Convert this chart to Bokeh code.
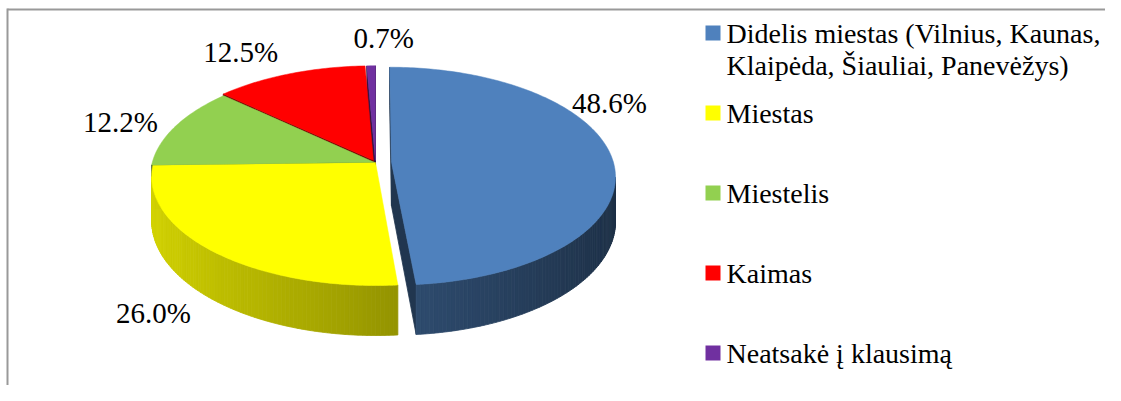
import math
import numpy as np
from bokeh.plotting import figure
from bokeh.models import Range1d
from bokeh.embed import file_html
from bokeh.resources import INLINE
from bokeh.core.properties import value

# ---------------- data ----------------
categories = [
    "Didelis miestas (Vilnius, Kaunas,\nKlaipėda, Šiauliai, Panevėžys)",
    "Miestas",
    "Miestelis",
    "Kaimas",
    "Neatsakė į klausimą",
]
shares = [48.6, 26.0, 12.2, 12.5, 0.7]
share_labels = ["48.6%", "26.0%", "12.2%", "12.5%", "0.7%"]
colors = ["#4F81BD", "#FFFF00", "#92D050", "#FF0000", "#7030A0"]

# ---------------- layout / style ----------------
explode = [0.072, 0.0, 0.006, 0.022, 0.02]
label_angle = [62.4, 215.4, 288.4, 329.4, 1.8]
label_radius = [1.279, 1.463, 1.273, 1.374, 1.372]
FIRST_ANGLE = 0.0

CX, CY, RX, RY, K, DEPTH = 375.0, 162.0, 222.0, 107.2, 0.1284, 43.6
FONT = "Liberation Serif"
FS_LAB = "29px"
FS_LEG = "28px"


def proj(u, v, h=0.0):
    w = 1.0 - K * v
    return CX + RX * u / w, CY + (RY * v + DEPTH * h) / w


def shade(hx, f):
    hx = hx.lstrip("#")
    r, g, b = (int(hx[k:k + 2], 16) for k in (0, 2, 4))
    c = lambda t: max(0, min(255, int(round(t * f))))
    return "#%02x%02x%02x" % (c(r), c(g), c(b))


def signed_area(xs, ys):
    m = len(xs)
    return sum(xs[k] * ys[(k + 1) % m] - xs[(k + 1) % m] * ys[k] for k in range(m)) / 2.0


total = sum(shares)
angles = [FIRST_ANGLE]
for s in shares:
    angles.append(angles[-1] + 360.0 * s / total)

walls = []
tops = []
for i in range(len(shares)):
    a0, a1 = angles[i], angles[i + 1]
    am = math.radians((a0 + a1) / 2)
    eu, ev = explode[i] * math.sin(am), -explode[i] * math.cos(am)
    n = max(3, int(a1 - a0) + 2)
    th = np.radians(np.linspace(a0, a1, n))
    us = eu + np.sin(th)
    vs = ev - np.cos(th)

    pts = [proj(eu, ev)] + [proj(u, v) for u, v in zip(us, vs)]
    tops.append(([p[0] for p in pts], [p[1] for p in pts], colors[i]))

    def add_wall(q, f):
        pp = [proj(u, v, h) for (u, v, h) in q]
        xs = [p[0] for p in pp]
        ys = [p[1] for p in pp]
        if signed_area(xs, ys) < 0:
            depth = sum(v for (_, v, _) in q) / len(q)
            walls.append((depth, xs, ys, shade(colors[i], f)))

    for j in range(n - 1):
        tm = (th[j] + th[j + 1]) / 2
        f = 0.6 - 0.23 * math.sin(tm)
        add_wall([(us[j], vs[j], 0), (us[j + 1], vs[j + 1], 0),
                  (us[j + 1], vs[j + 1], 1), (us[j], vs[j], 1)], f)
    add_wall([(eu, ev, 0), (us[0], vs[0], 0), (us[0], vs[0], 1), (eu, ev, 1)], 0.42)
    add_wall([(us[-1], vs[-1], 0), (eu, ev, 0), (eu, ev, 1), (us[-1], vs[-1], 1)], 0.42)

walls.sort(key=lambda t: t[0])

W, H = 1105, 385
p = figure(width=W, height=H, x_range=Range1d(0, W), y_range=Range1d(H, 0),
           output_backend="svg", toolbar_location=None, min_border=0)
p.axis.visible = False
p.grid.visible = False
p.outline_line_color = None
p.background_fill_color = "white"
p.border_fill_color = "white"

# frame lines
p.segment(x0=[7, 7], y0=[9, 8], x1=[W, 7], y1=[9, H], line_color="#999999", line_width=2)

p.patches(xs=[w[1] for w in walls], ys=[w[2] for w in walls],
          fill_color=[w[3] for w in walls], line_color=[w[3] for w in walls], line_width=0.8)
p.patches(xs=[t[0] for t in tops], ys=[t[1] for t in tops],
          fill_color=[t[2] for t in tops], line_color=[t[2] for t in tops], line_width=0.5)

# data labels
lx, ly = [], []
for a, r in zip(label_angle, label_radius):
    t = math.radians(a)
    x, y = proj(r * math.sin(t), -r * math.cos(t))
    lx.append(x)
    ly.append(y)
p.text(x=lx, y=ly, text=share_labels, text_font=value(FONT), text_font_size=FS_LAB,
       text_align="center", text_baseline="middle", text_color="black")

# legend
LEG_X, LEG_Y0, LEG_STEP, LINE_STEP, SQ = 712.5, 32.5, 80, 32, 15
sq_x, sq_y, tx, ty, tt = [], [], [], [], []
for i, name in enumerate(categories):
    yc = LEG_Y0 + i * LEG_STEP
    sq_x.append(LEG_X)
    sq_y.append(yc)
    for j, line in enumerate(name.split("\n")):
        tx.append(LEG_X + 13.5)
        ty.append(yc + j * LINE_STEP)
        tt.append(line)
p.rect(x=sq_x, y=sq_y, width=SQ, height=SQ, fill_color=colors, line_color=None)
p.text(x=tx, y=ty, text=tt, text_font=value(FONT), text_font_size=FS_LEG,
       text_align="left", text_baseline="middle", text_color="black")

open("out.html", "w").write(file_html(p, INLINE))
